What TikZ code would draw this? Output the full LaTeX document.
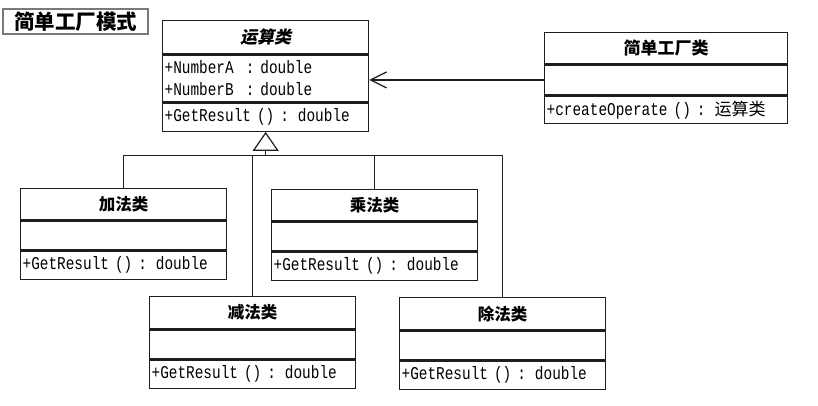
\documentclass[tikz,border=0pt]{standalone}
\usepackage{fontspec}
\usetikzlibrary{arrows.meta}
\newfontfamily\cjk{Noto Sans CJK SC}
\newfontfamily\cjkit[FakeSlant=0.22]{Noto Sans CJK SC}
\newfontfamily\umlmono[FakeStretch=0.8]{Liberation Mono}
\definecolor{linec}{HTML}{1E1E1E}
\definecolor{titleborder}{HTML}{7A7A7A}
\begin{document}
\begin{tikzpicture}[x=1pt,y=-1pt,
  box/.style={draw=linec, line width=1.3pt, fill=white, inner sep=0pt, anchor=north west},
  namebox/.style={box, font=\cjk\bfseries\fontsize{16.5}{18}\selectfont},
  compbox/.style={box, inner xsep=2pt, align=left, font=\umlmono\fontsize{18}{22}\selectfont},
  conn/.style={draw=linec, line width=1.2pt},
  inh/.style={conn, -{Triangle[open, length=19pt, width=26pt]}},
  dep/.style={conn, -{Straight Barb[length=16pt, width=16pt]}}
]
\useasboundingbox (0,0) rectangle (818,406);
\fill[white] (0,0) rectangle (818,406);

% title
\node[draw=titleborder, line width=2.3pt, fill=white, minimum width=145pt, minimum height=25pt,
      inner sep=0pt, font=\cjk\bfseries\fontsize{20.5}{22}\selectfont] (title) at (75.7,21.7) {简单工厂模式};

% 运算类
\node[namebox, minimum width=206pt, minimum height=33pt] (ys) at (162,20) {\cjkit\bfseries\fontsize{17}{18}\selectfont 运算类};
\node[compbox, text width=202pt, minimum height=47pt] (ysa) at (ys.south west) {+NumberA\ \ : double\\+NumberB\ \ : double};
\node[compbox, text width=202pt, minimum height=28pt] (ysm) at (ysa.south west) {+GetResult () : double};

% 简单工厂类
\node[namebox, minimum width=243pt, minimum height=31pt, font=\cjk\bfseries\fontsize{17}{18}\selectfont] (gc) at (544,32) {简单工厂类};
\node[compbox, text width=239pt, minimum height=30pt] (gca) at (gc.south west) {};
\node[compbox, text width=239pt, minimum height=27pt] (gcm) at (gca.south west) {+createOperate () : {\cjk\fontsize{17}{18}\selectfont 运算类}};

% 加法类
\node[namebox, minimum width=206pt, minimum height=31pt] (jia) at (20,188) {加法类};
\node[compbox, text width=202pt, minimum height=29pt] (jiaa) at (jia.south west) {};
\node[compbox, text width=202pt, minimum height=28pt] (jiam) at (jiaa.south west) {+GetResult () : double};

% 乘法类
\node[namebox, minimum width=206pt, minimum height=31pt] (cheng) at (271,189) {乘法类};
\node[compbox, text width=202pt, minimum height=29pt] (chenga) at (cheng.south west) {};
\node[compbox, text width=202pt, minimum height=28pt] (chengm) at (chenga.south west) {+GetResult () : double};

% 减法类
\node[namebox, minimum width=206pt, minimum height=32pt] (jian) at (149,296) {减法类};
\node[compbox, text width=202pt, minimum height=29pt] (jiana) at (jian.south west) {};
\node[compbox, text width=202pt, minimum height=28pt] (jianm) at (jiana.south west) {+GetResult () : double};

% 除法类
\node[namebox, minimum width=206pt, minimum height=32pt] (chu) at (399,297) {除法类};
\node[compbox, text width=202pt, minimum height=29pt] (chua) at (chu.south west) {};
\node[compbox, text width=202pt, minimum height=28pt] (chum) at (chua.south west) {+GetResult () : double};

% dependency arrow
\draw[dep] (gca.west) -- (gca.west -| ysa.east);

% inheritance
\path (ysm.south) ++(0,24) coordinate (bus);
\draw[inh] (bus) -- (ysm.south);
\draw[conn] (jia.north) |- (bus -| chu.north) -- (chu.north);
\draw[conn] (cheng.north) -- (cheng.north |- bus);
\draw[conn] (jian.north) -- (jian.north |- bus);
\end{tikzpicture}
\end{document}
